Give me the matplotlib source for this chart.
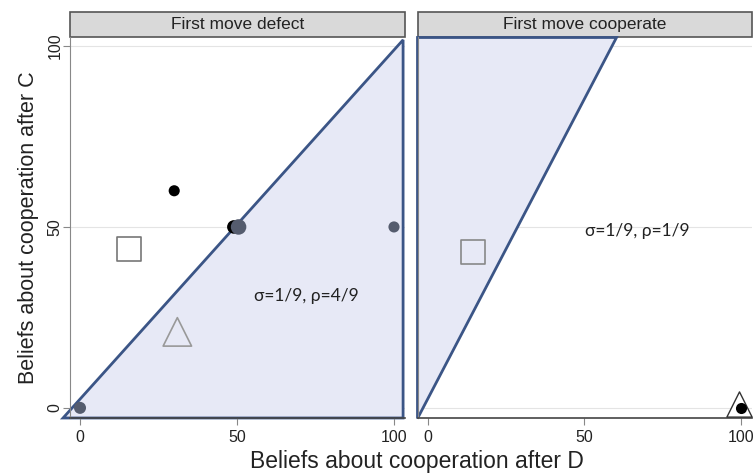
import matplotlib
matplotlib.use("Agg")
import matplotlib.pyplot as plt
from matplotlib.patches import Polygon, Rectangle

plt.rcParams["font.family"] = ["Liberation Sans", "DejaVu Sans"]

# Panel titles and shared axis labels
panel_titles = ["First move defect", "First move cooperate"]
xlabel = "Beliefs about cooperation after D"
ylabel = "Beliefs about cooperation after C"
ticks = [0, 50, 100]
param_labels = ["σ=1/9, ρ=4/9", "σ=1/9, ρ=1/9"]
param_pos_x = [72, 67]
param_pos_y = [31, 49]

# Shaded equilibrium regions (vertices in data units)
region_defect_x = [-5.4, 102.9, 102.9]
region_defect_y = [-2.8, 101.7, -2.8]
region_coop_x = [-3.5, -3.5, 60.2]
region_coop_y = [-2.8, 102.5, 102.5]

# First move defect: observations
defect_black_x = [30, 49]
defect_black_y = [60, 50]
defect_black_s = [64, 95]
defect_gray_x = [50.5, 100, 0]
defect_gray_y = [50, 50, 0]
defect_gray_s = [125, 64, 75]
defect_square_x = [15.5]
defect_square_y = [44]
defect_triangle_x = [31]
defect_triangle_y = [21]

# First move cooperate: observations
coop_square_x = [14.5]
coop_square_y = [43]
coop_triangle_x = [99.5]
coop_triangle_y = [1]
coop_black_x = [100]
coop_black_y = [0]

edge_blue = "#3b5586"
fill_blue = "#e7e9f6"
dot_gray = "#555c6e"

fig = plt.figure(figsize=(7.54, 4.73), dpi=100)
axL = fig.add_axes([0.0928, 0.1163, 0.4443, 0.8055])
axR = fig.add_axes([0.5545, 0.1163, 0.4425, 0.8055])

xlim = (-3.2, 103.5)
ylim = (-2.8, 102.5)

for ax, title in zip([axL, axR], panel_titles):
    ax.set_xlim(*xlim)
    ax.set_ylim(*ylim)
    ax.set_xticks(ticks)
    ax.set_yticks(ticks)
    for y in ticks:
        ax.axhline(y, color="#e4e4e4", lw=0.8, zorder=0)
    for s in ["top", "right"]:
        ax.spines[s].set_visible(False)
    ax.spines["left"].set_color("#888888")
    ax.spines["bottom"].set_color("#444444")
    ax.spines["bottom"].set_linewidth(1.2)
    ax.tick_params(axis="both", direction="out", length=5, color="#888888",
                   labelsize=11.5, labelcolor="#222222", pad=4)
    # Strip title box
    strip = Rectangle((0, 1.0), 1.0, 0.066, transform=ax.transAxes,
                      facecolor="#d9d9d9", edgecolor="#555555", lw=1.2,
                      clip_on=False)
    ax.add_patch(strip)
    ax.text(0.5, 1.033, title, transform=ax.transAxes, ha="center",
            va="center", fontsize=12.5, color="#222222")

axL.tick_params(axis="y", labelrotation=90, pad=0.5)
for lab in axL.get_yticklabels():
    lab.set_va("center")
axR.tick_params(axis="y", left=False, labelleft=False)

# Shaded regions
axL.add_patch(Polygon(list(zip(region_defect_x, region_defect_y)), closed=True,
                      facecolor=fill_blue, edgecolor=edge_blue, lw=2,
                      clip_on=False, zorder=1))
axR.add_patch(Polygon(list(zip(region_coop_x, region_coop_y)), closed=True,
                      facecolor=fill_blue, edgecolor=edge_blue, lw=2,
                      clip_on=False, zorder=1))

# First move defect markers
axL.scatter(defect_square_x, defect_square_y, marker="s", s=300,
            facecolor="none", edgecolor="#777777", lw=1.2, zorder=3)
axL.scatter(defect_triangle_x, defect_triangle_y, marker="^", s=420,
            facecolor="none", edgecolor="#999999", lw=1.2, zorder=3)
axL.scatter(defect_black_x, defect_black_y, s=defect_black_s, color="black",
            lw=0, zorder=4)
axL.scatter(defect_gray_x, defect_gray_y, s=defect_gray_s, color=dot_gray,
            lw=0, zorder=5, clip_on=False)

# First move cooperate markers
axR.scatter(coop_square_x, coop_square_y, marker="s", s=300,
            facecolor="none", edgecolor="#888888", lw=1.2, zorder=3)
axR.scatter(coop_triangle_x, coop_triangle_y, marker="^", s=330,
            facecolor="white", edgecolor="#333333", lw=1.0, zorder=3,
            clip_on=False)
axR.scatter(coop_black_x, coop_black_y, s=64, color="black", lw=0,
            zorder=4, clip_on=False)

for ax, txt, tx, ty in zip([axL, axR], param_labels, param_pos_x, param_pos_y):
    ax.text(tx, ty, txt, ha="center", va="center", fontsize=12.5,
            color="#222222", zorder=6, family=["Lato", "DejaVu Sans"])

axL.set_ylabel(ylabel, fontsize=15.5, color="#222222", labelpad=6)
fig.text(0.553, 0.0, xlabel, ha="center", va="bottom", fontsize=16.5,
         color="#222222")

fig.savefig("out.png", dpi=100)
